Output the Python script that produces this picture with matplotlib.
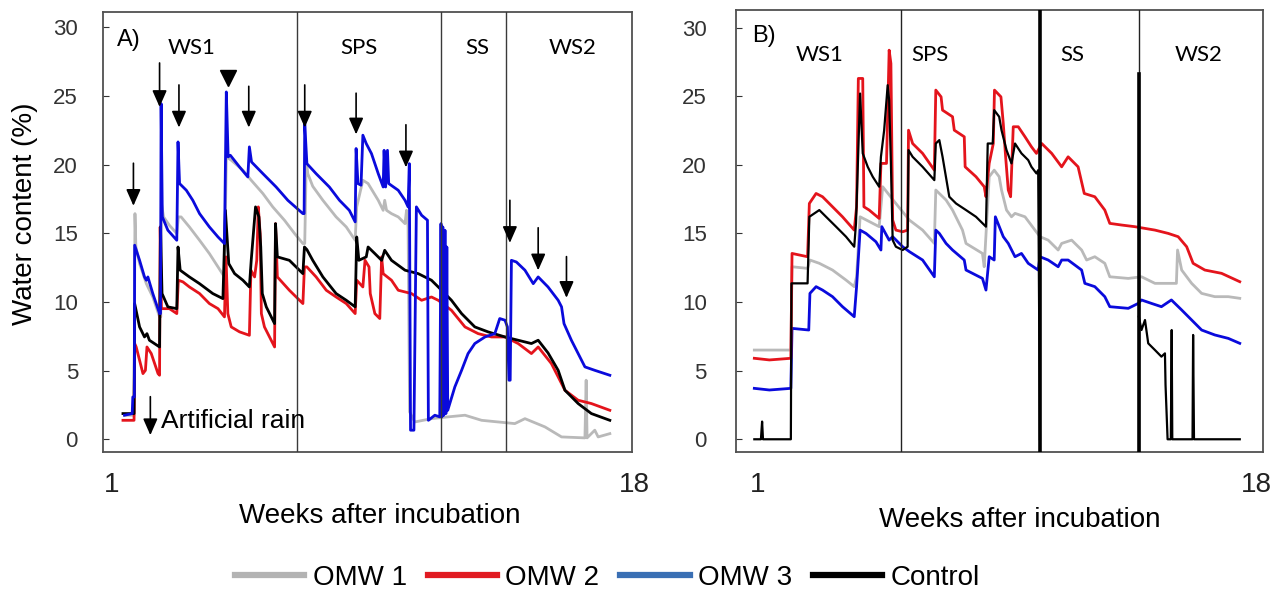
import matplotlib
matplotlib.use('Agg')
import matplotlib.pyplot as plt
from matplotlib.lines import Line2D

plt.rcParams['font.family'] = ['Liberation Sans', 'DejaVu Sans']
nan = float('nan')

# ---------------- Panel A (weeks, water content %) ----------------
a_omw3_w = [1.41, 1.66, 1.68, 1.73, 1.74, 1.90, 2.06, 2.12, 2.17, 2.33, 2.55, 2.58, 2.60, 2.64, 2.82,
            3.11, 3.15, 3.20, 3.42, 3.63, 3.85, 4.17, 4.45, 4.66, 4.72, 4.78, 4.85, 5.15, 5.42, 5.47,
            5.54, 5.91, 6.34, 6.72, 7.21, 7.25, 7.27, 7.34, 7.64, 8.07, 8.40, 8.72, 8.91, 8.94, 9.00,
            9.10, 9.16, 9.27, 9.44, 9.66, 9.82, 9.85, 9.90, 9.96, 10.00, 10.31, 10.53, 10.63, 10.67,
            10.71, 10.82, 10.90, 11.07, 11.26, 11.29, 11.50, 11.66, 11.70, 11.73, 11.76, 11.79, 11.83,
            11.86, 11.89, 11.92, 12.15, 12.37, 12.58, 12.80, 13.13, 13.45, 13.61, 13.78, 13.86, 13.91,
            13.95, 13.99, 14.15, 14.43, 14.70, 14.86, 15.18, 15.51, 15.62, 15.70, 15.94, 16.16, 16.38,
            16.70, 17.19]
a_omw3_v = [1.75, 1.87, 3.08, 3.08, 14.13, 13.03, 11.82, 11.58, 11.82, 10.61, 9.15, 9.15, 24.44, 16.19, 15.22,
            14.49, 21.65, 18.62, 18.13, 17.40, 16.43, 15.46, 14.73, 14.25, 25.29, 20.56, 20.68, 19.83, 19.10, 21.29,
            20.19, 19.34, 18.37, 17.40, 16.43, 16.43, 22.99, 20.07, 19.34, 18.37, 17.40, 16.67, 15.83, 21.17, 18.62,
            18.50, 22.14, 21.53, 20.80, 19.34, 18.37, 21.04, 18.37, 21.04, 18.62, 18.13, 17.40, 16.92, 20.07,
            0.66, 0.66, 16.92, 16.31, 15.95, 1.38, 1.75, 1.63, 15.70, 1.63, 15.46, 1.75, 15.22,
            1.87, 14.00, 2.11, 3.81, 5.02, 6.24, 6.97, 7.45, 7.69, 8.79, 8.67, 8.18, 4.30,
            4.30, 13.03, 12.91, 12.31, 11.33, 11.82, 11.09, 10.12, 9.64, 8.42, 7.21, 6.24, 5.27,
            5.02, 4.66]

a_omw1_w = [1.41, 1.72, 1.75, 1.78, 1.90, 2.12, 2.33, 2.55, 2.59, 2.61, 2.68, 2.87, 3.11, 3.16, 3.25,
            3.52, 3.85, 4.17, 4.45, 4.66, 4.72, 4.88, 5.26, 5.53, 5.91, 6.23, 6.61, 6.94, 7.21, 7.27,
            7.32, 7.37, 7.53, 7.86, 8.29, 8.62, 8.91, 8.96, 9.16, 9.33, 9.66, 9.82, 9.87, 9.93, 10.09,
            10.31, 10.53, 10.58, 10.63, 10.68, 10.85, 11.39, 11.93, 12.48, 13.02, 13.56, 14.10, 14.43,
            15.08, 15.62, 16.38, 16.42, 16.45, 16.70, 16.81, 17.19]
a_omw1_v = [1.75, 1.75, 16.43, 14.00, 12.79, 11.33, 10.36, 8.91, 8.91, 17.16, 16.19, 15.58, 14.98, 16.19, 16.19,
            15.46, 14.49, 13.52, 12.55, 11.82, 20.56, 20.32, 19.59, 18.86, 17.89, 16.92, 15.95, 14.98, 14.25, 14.25,
            20.32, 19.34, 18.42, 17.40, 16.19, 15.46, 14.49, 16.92, 18.86, 18.62, 17.40, 16.67, 17.40, 16.67, 16.43,
            16.19, 15.70, 16.67, 15.46, 1.99, 1.26, 1.50, 1.63, 1.75, 1.38, 1.26, 1.14, 1.50,
            0.90, 0.17, 0.10, 4.30, 0.10, 0.66, 0.17, 0.41]

a_omw2_w = [1.36, 1.72, 1.74, 1.79, 2.01, 2.09, 2.14, 2.28, 2.50, 2.55, 2.57, 2.61, 2.87, 3.11, 3.16,
            3.31, 3.52, 3.85, 4.17, 4.45, 4.66, 4.71, 4.77, 4.88, 5.15, 5.47, 5.52, 5.64, 5.71, 5.76,
            5.82, 5.86, 5.96, 6.29, 6.32, 6.38, 6.77, 7.21, 7.26, 7.34, 7.64, 7.97, 8.29, 8.62, 8.91,
            8.96, 9.16, 9.23, 9.36, 9.40, 9.55, 9.71, 9.77, 9.82, 10.09, 10.31, 10.74, 11.07, 11.39,
            11.61, 12.04, 12.48, 12.91, 13.34, 13.78, 14.21, 14.64, 14.86, 15.29, 15.73, 16.16, 16.59,
            17.19]
a_omw2_v = [1.38, 1.38, 6.97, 6.72, 4.78, 5.02, 6.72, 6.24, 4.78, 4.66, 15.46, 9.51, 9.51, 9.15, 11.58,
            11.46, 11.09, 10.61, 9.88, 9.51, 8.91, 13.28, 9.15, 8.18, 7.82, 7.57, 12.31, 11.82, 13.03, 16.92,
            14.98, 9.15, 8.18, 6.72, 15.70, 11.82, 10.85, 9.88, 12.55, 12.55, 11.82, 10.85, 10.36, 9.88, 9.15,
            11.58, 11.09, 13.03, 12.55, 10.61, 9.15, 8.79, 13.28, 12.06, 11.58, 10.85, 10.61, 10.12, 10.36,
            10.12, 9.39, 8.18, 7.69, 7.45, 7.45, 6.97, 6.24, 6.72, 5.51, 3.57, 2.84, 2.60,
            2.11]

a_ctrl_w = [1.36, 1.72, 1.74, 1.90, 2.06, 2.14, 2.22, 2.55, 2.58, 2.63, 2.82, 3.11, 3.15, 3.22, 3.52,
            3.85, 4.28, 4.61, 4.69, 4.80, 4.99, 5.26, 5.47, 5.53, 5.67, 5.78, 5.84, 5.89, 6.02, 6.29,
            6.32, 6.38, 6.77, 7.21, 7.26, 7.34, 7.53, 7.86, 8.29, 8.62, 8.91, 8.96, 9.03, 9.27, 9.33,
            9.55, 9.77, 9.87, 10.09, 10.53, 10.96, 11.39, 11.72, 12.04, 12.37, 12.80, 13.23, 13.78,
            14.21, 14.64, 14.86, 15.18, 15.51, 15.73, 16.16, 16.59, 17.19]
a_ctrl_v = [1.87, 1.87, 9.88, 8.18, 7.45, 7.69, 7.21, 6.72, 15.46, 10.61, 9.64, 9.51, 14.00, 12.31, 11.82,
            11.33, 10.61, 10.24, 16.67, 12.79, 12.06, 11.58, 11.09, 13.03, 16.92, 16.19, 14.00, 10.61, 9.64, 8.42,
            15.70, 13.28, 13.03, 12.06, 14.00, 13.81, 13.03, 11.82, 10.61, 10.12, 9.64, 14.73, 13.03, 13.28, 14.00,
            13.52, 13.03, 13.76, 13.03, 12.31, 12.06, 11.58, 10.85, 10.12, 9.15, 8.18, 7.82, 7.45,
            7.21, 6.97, 7.21, 6.29, 5.02, 3.57, 2.60, 1.87, 1.38]

a_phase_x = [7.01, 11.70, 13.83]
a_phase_names = ['WS1', 'SPS', 'SS', 'WS2']
a_phase_label_x = [3.60, 9.03, 12.87, 15.99]

# artificial rain events: week, arrow tip, arrow tail
a_rain_w = [1.70, 2.55, 3.18, 5.45, 7.27, 8.94, 10.56, 13.94, 14.86, 15.78]
a_rain_tip = [17.0, 24.2, 22.7, 22.7, 22.7, 22.2, 19.8, 14.3, 12.3, 10.3]
a_rain_top = [20.1, 27.4, 25.8, 25.7, 25.8, 25.2, 22.9, 17.4, 15.4, 13.3]
a_rain_head_w, a_rain_head_v = 4.77, 26.3

# ---------------- Panel B ----------------
b_omw3_w = [0.875, 1.39, 2.12, 2.16, 2.73, 2.77, 2.98, 3.20, 3.54, 3.88, 4.28, 4.36, 4.48, 4.68, 5.02,
            5.19, 5.22, 5.47, 5.59, 5.93, 6.16, 6.61, 7.01, 7.06, 7.18, 7.41, 7.63, 8.03, 8.09, 8.65,
            8.77, 8.88, 9.05, 9.09, 9.36, 9.53, 9.76, 9.98, 10.21, 10.55, 10.61, 10.89, 11.23, 11.35,
            11.57, 12.03, 12.14, 12.48, 12.82, 12.99, 13.62, 13.96, 14.07, 14.41, 14.75, 15.09, 15.44,
            15.78, 16.12, 16.57, 17.03, 17.42]
b_omw3_v = [3.71, 3.59, 3.71, 8.08, 7.96, 10.63, 11.12, 10.87, 10.39, 9.66, 8.93, 11.12, 15.24, 15.00, 14.39,
            13.79, 15.49, 14.51, 14.76, 14.03, 13.67, 13.06, 11.84, 15.24, 15.00, 14.27, 13.79, 13.06, 12.33, 11.72,
            10.87, 13.30, 13.06, 16.21, 14.76, 14.27, 13.30, 13.54, 12.82, 12.33, 13.30, 13.06, 12.57, 13.06,
            13.06, 12.33, 11.36, 11.12, 10.39, 9.66, 9.54, 9.90, 10.15, 9.90, 9.66, 10.15, 9.42,
            8.69, 7.96, 7.60, 7.35, 6.99]

b_omw2_w = [0.875, 1.39, 2.12, 2.16, 2.69, 2.75, 2.98, 3.20, 3.54, 3.88, 4.28, 4.36, 4.42, 4.57, 4.61,
            4.79, 5.13, 5.19, 5.38, 5.47, 5.53, 5.59, 5.70, 5.93, 6.10, 6.13, 6.27, 6.61, 7.01, 7.06,
            7.24, 7.29, 7.63, 7.69, 8.03, 8.06, 8.43, 8.71, 8.77, 8.88, 9.02, 9.06, 9.28, 9.36, 9.44,
            9.53, 9.61, 9.70, 9.87, 10.10, 10.32, 10.49, 10.67, 11.01, 11.35, 11.57, 11.91, 12.12,
            12.48, 12.82, 12.99, 13.39, 13.84, 14.53, 14.98, 15.32, 15.61, 15.83, 16.23, 16.80, 17.42]
b_omw2_v = [5.90, 5.78, 5.90, 13.54, 13.30, 17.18, 17.91, 17.67, 16.94, 16.21, 15.24, 16.94, 26.29, 26.29, 16.94,
            16.70, 16.09, 20.10, 20.10, 28.35, 27.38, 15.97, 15.24, 15.12, 15.24, 22.52, 21.55, 20.83, 19.61, 25.44,
            24.95, 23.98, 23.50, 22.52, 22.04, 19.85, 19.13, 18.40, 17.67, 20.10, 21.55, 25.44, 24.95, 23.01, 20.58,
            18.16, 17.67, 22.77, 22.77, 22.04, 21.31, 20.83, 21.55, 20.83, 19.85, 20.58, 19.85, 17.91,
            17.67, 16.70, 15.73, 15.61, 15.49, 15.24, 15.00, 14.76, 14.03, 12.82, 12.33, 12.09, 11.48]

b_omw1_w = [0.875, 2.12, 2.16, 2.69, 2.77, 3.09, 3.54, 4.00, 4.28, 4.36, 4.48, 5.13, 5.25, 5.70, 6.16,
            6.61, 7.01, 7.06, 7.41, 7.63, 7.97, 8.09, 8.65, 8.71, 8.88, 9.05, 9.22, 9.30, 9.47, 9.64,
            9.76, 10.10, 10.44, 10.61, 10.89, 11.23, 11.35, 11.69, 12.03, 12.20, 12.48, 12.82, 12.99,
            13.62, 14.07, 14.53, 14.98, 15.26, 15.30, 15.44, 15.78, 16.12, 16.57, 17.03, 17.42]
b_omw1_v = [6.50, 6.50, 12.57, 12.45, 13.06, 12.82, 12.33, 11.60, 11.12, 11.84, 16.21, 15.49, 18.40, 17.18, 15.97,
            15.24, 14.27, 18.16, 17.43, 16.70, 15.24, 14.27, 13.54, 12.57, 19.13, 19.61, 19.13, 18.16, 16.70, 16.21,
            16.46, 16.21, 15.24, 14.76, 14.51, 13.79, 14.27, 14.51, 13.79, 13.06, 13.30, 12.82, 11.84,
            11.72, 11.84, 11.36, 11.36, 11.36, 13.79, 12.33, 11.36, 10.63, 10.39, 10.39, 10.27]

# control sensor: no record between the SS and WS2 dividers
b_ctrl_w = [0.875, 1.10, 1.14, 1.17, 2.12, 2.14, 2.69, 2.75, 3.09, 3.32, 3.66, 4.00, 4.28, 4.34, 4.48,
            4.57, 4.74, 4.91, 5.13, 5.19, 5.30, 5.42, 5.47, 5.53, 5.59, 5.70, 5.93, 6.10, 6.13, 6.27,
            6.61, 7.01, 7.06, 7.18, 7.29, 7.52, 7.75, 8.09, 8.43, 8.77, 8.83, 9.00, 9.05, 9.22, 9.30,
            9.47, 9.64, 9.76, 9.98, 10.21, 10.32, 10.49, 10.55, 10.61, 12.0, 13.98, 14.07, 14.19,
            14.30, 14.53, 14.75, 14.87, 14.89, 14.96, 15.07, 15.10, 15.12, 15.81, 15.83, 15.86, 17.42]
b_ctrl_v = [0.0, 0.0, 1.29, 0.0, 0.0, 11.36, 11.36, 16.21, 16.70, 16.21, 15.49, 14.76, 14.03, 15.73, 25.19,
            20.83, 19.85, 19.13, 18.40, 20.58, 22.52, 25.80, 24.71, 20.10, 14.51, 14.03, 13.79, 14.03, 21.07, 20.58,
            19.85, 18.88, 21.55, 21.80, 20.58, 17.67, 17.18, 16.70, 16.21, 15.49, 21.55, 21.55, 23.98, 23.50, 22.52,
            21.07, 20.10, 21.55, 20.83, 20.34, 19.85, 19.37, 19.61, 0.0, nan, 8.93, 7.96, 8.69,
            6.99, 6.50, 6.02, 6.26, 3.96, 0.0, 0.0, 7.96, 0.0, 0.0, 7.60, 0.0, 0.0]

b_phase_x = [5.89, 10.61, 13.98]
b_phase_names = ['WS1', 'SPS', 'SS', 'WS2']
b_phase_label_x = [3.11, 6.86, 11.70, 16.03]

series_names = ['OMW 1', 'OMW 2', 'OMW 3', 'Control']
line_colors = ['#b9b9b9', '#e4141c', '#0a0adc', '#000000']
legend_colors = ['#b3b3b3', '#e11b22', '#3a6fb4', '#000000']

fig = plt.figure(figsize=(12.84, 5.94), dpi=100)
axA = fig.add_axes([0.0802, 0.239, 0.412, 0.741])
axB = fig.add_axes([0.5732, 0.239, 0.4104, 0.744])

lw = 2.0
axA.plot(a_omw1_w, a_omw1_v, color=line_colors[0], lw=lw, zorder=2)
axA.plot(a_omw2_w, a_omw2_v, color=line_colors[1], lw=lw, zorder=3)
axA.plot(a_ctrl_w, a_ctrl_v, color=line_colors[3], lw=lw, zorder=4)
axA.plot(a_omw3_w, a_omw3_v, color=line_colors[2], lw=lw, zorder=5)

axB.plot(b_omw1_w, b_omw1_v, color=line_colors[0], lw=lw, zorder=2)
axB.plot(b_omw3_w, b_omw3_v, color=line_colors[2], lw=lw, zorder=3)
axB.plot(b_omw2_w, b_omw2_v, color=line_colors[1], lw=lw, zorder=4)
axB.plot(b_ctrl_w, b_ctrl_v, color=line_colors[3], lw=1.6, zorder=5)

for ax, xl, yl in [(axA, (0.71, 17.91), (-0.93, 31.12)), (axB, (0.25, 18.21), (-0.93, 31.27))]:
    ax.set_xlim(*xl)
    ax.set_ylim(*yl)
    ax.set_xticks([])
    ax.set_yticks(range(0, 31, 5))
    for s in ax.spines.values():
        s.set_color('#505050')
        s.set_linewidth(1.3)
    ax.text(1, -3.3, '1', fontsize=20, ha='center', va='center', color='#222222', clip_on=False)
    ax.text(18, -3.3, '18', fontsize=20, ha='center', va='center', color='#222222', clip_on=False)

axA.tick_params(axis='y', direction='in', length=4, labelsize=16, pad=18, colors='#333333')
axB.tick_params(axis='y', direction='in', length=4, labelsize=16, pad=21, colors='#333333')

# phase dividers and names
for x in a_phase_x:
    axA.axvline(x, color='#3a3a3a', lw=1.0, zorder=6)
for name, x in zip(a_phase_names, a_phase_label_x):
    axA.text(x, 28.5, name, fontsize=16, family=['Lato', 'DejaVu Sans'], ha='center', va='center')
axB.axvline(b_phase_x[0], color='#222222', lw=1.0, zorder=6)
axB.axvline(b_phase_x[1], color='#000000', lw=2.6, zorder=6)
axB.axvline(b_phase_x[2], color='#222222', lw=1.0, zorder=6)
axB.plot([b_phase_x[2], b_phase_x[2]], [-0.93, 26.6], color='#000000', lw=2.6, zorder=6)
for name, x in zip(b_phase_names, b_phase_label_x):
    axB.text(x, 28.0, name, fontsize=16, family=['Lato', 'DejaVu Sans'], ha='center', va='center')

axA.text(1.16, 29.1, 'A)', fontsize=17, ha='left', va='center')
axB.text(0.80, 29.4, 'B)', fontsize=17, ha='left', va='center')

# artificial rain arrows
arrow_style = dict(arrowstyle='-|>,head_length=0.5,head_width=0.22', mutation_scale=20,
                   lw=1.2, color='black', shrinkA=0, shrinkB=0)
for w, tip, top in zip(a_rain_w, a_rain_tip, a_rain_top):
    axA.annotate('', xy=(w, tip), xytext=(w, top), arrowprops=arrow_style, zorder=7)
axA.plot([a_rain_head_w], [a_rain_head_v], marker='v', color='black', ms=11, zorder=7)
axA.annotate('', xy=(2.25, 0.3), xytext=(2.25, 3.1), arrowprops=arrow_style, zorder=7)
axA.text(2.59, 1.3, 'Artificial rain', fontsize=19, ha='left', va='center', zorder=7)

fig.text(380 / 1284, 1 - 516 / 594, 'Weeks after incubation', fontsize=20, ha='center', va='center')
fig.text(1020 / 1284, 1 - 520 / 594, 'Weeks after incubation', fontsize=20, ha='center', va='center')
fig.text(25 / 1284, 1 - 214 / 594, 'Water content (%)', fontsize=20, rotation=90, ha='center', va='center')

handles = [Line2D([], [], color=c, lw=4.5) for c in legend_colors]
fig.legend(handles, series_names, loc='center', bbox_to_anchor=(0.473, 1 - 578 / 594), ncol=4,
           frameon=False, fontsize=20, handlelength=2.5, handletextpad=0.3, columnspacing=0.75)

fig.savefig('out.png', dpi=100)
